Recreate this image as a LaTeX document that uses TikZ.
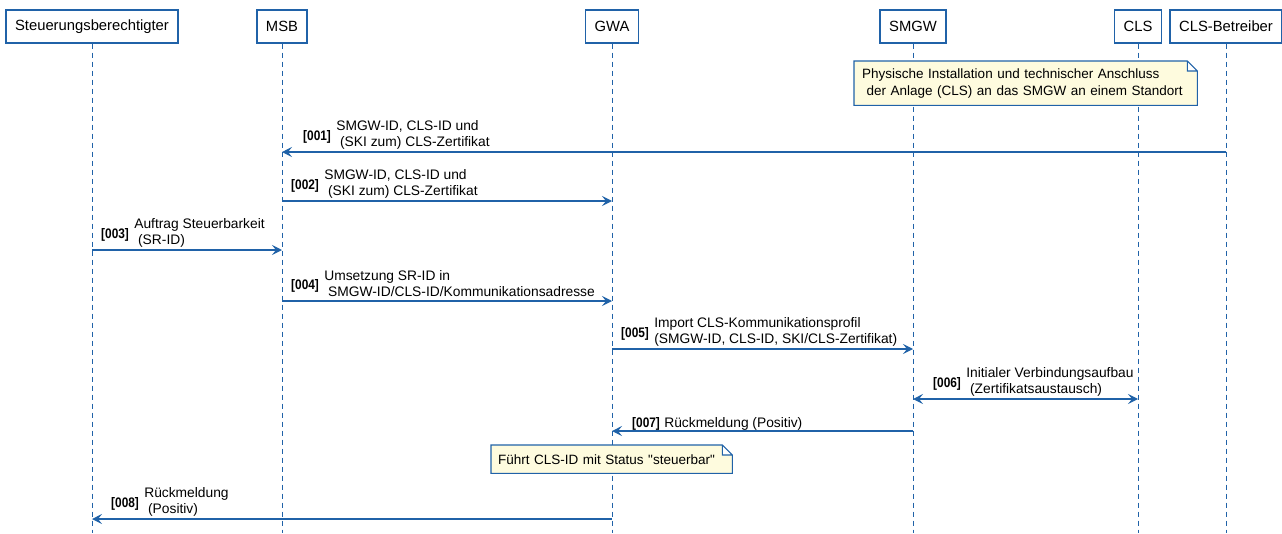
\documentclass[tikz,border=0pt]{standalone}
\usepackage{fontspec}
\setmainfont{Liberation Sans}
\usepackage{graphicx}
\usepackage{xcolor}
\usepackage{tikz}
\usetikzlibrary{arrows.meta, positioning, backgrounds}

\definecolor{umlblue}{RGB}{32,98,168}
\definecolor{notefill}{RGB}{254,251,222}

\newcommand{\nr}[1]{\scalebox{0.86}[1]{\textbf{[#1]}}}

\tikzset{
  actor/.style={draw=umlblue, line width=1.4pt, fill=white, minimum height=33pt, inner xsep=9pt, font=\fontsize{14.8}{16}\selectfont},
  life/.style={umlblue, line width=0.9pt, dash pattern=on 5pt off 4pt},
  msg/.style={umlblue, line width=1.2pt, -{Stealth[length=10pt,width=10pt,inset=4pt]}},
  msgboth/.style={umlblue, line width=1.2pt, {Stealth[length=10pt,width=10pt,inset=4pt]}-{Stealth[length=10pt,width=10pt,inset=4pt]}},
  num/.style={inner sep=0pt, font=\fontsize{13.8}{16}\selectfont},
  lbl/.style={inner sep=0pt, align=left, font=\fontsize{13.8}{16}\selectfont},
  notebox/.style={inner xsep=8pt, anchor=north west, align=left, font=\fontsize{13.5}{17}\selectfont},
  noteline/.style={draw=umlblue, fill=notefill, line width=1.1pt}
}

\begin{document}
\begin{tikzpicture}[x=1pt, y=-1pt]
    \useasboundingbox (0,0) rectangle (1282,533);

    % participants
    \node[actor] at (92,26.5)   (sb)   {Steuerungsberechtigter};
    \node[actor] at (282,26.5)  (msb)  {MSB};
    \node[actor] at (612,26.5)  (gwa)  {GWA};
    \node[actor] at (913,26.5)  (smgw) {SMGW};
    \node[actor] at (1138,26.5) (cls)  {CLS};
    \node[actor] at (1226,26.5) (clsb) {CLS-Betreiber};

    % notes
    \node[notebox, text width=327pt, minimum height=44pt] at (854,61) (note1)
        {Physische Installation und technischer Anschluss\\\ der Anlage (CLS) an das SMGW an einem Standort};
    \node[notebox, text width=227pt, inner xsep=7pt, minimum height=28pt] at (491,445) (note2)
        {Führt CLS-ID mit Status \textquotedbl steuerbar\textquotedbl};

    \begin{scope}[on background layer]
        \foreach \p in {sb,msb,gwa,smgw,cls,clsb}
            \draw[life] (\p.south) -- (\p.south |- 0,533);
        \foreach \n in {note1,note2}
            \draw[noteline] (\n.north west) -- ([xshift=-10pt]\n.north east) -- ([yshift=-10pt]\n.north east)
                -- (\n.south east) -- (\n.south west) -- cycle
                ([xshift=-10pt]\n.north east) |- ([yshift=-10pt]\n.north east);
    \end{scope}

    % messages
    \draw[msg] (clsb |- 0,152) -- (msb |- 0,152);
    \node[num, anchor=base west] at (303,140) (n001) {\nr{001}};
    \node[lbl, anchor=west] at ([xshift=5pt, yshift=1.5pt]n001.east) (t001) {SMGW-ID, CLS-ID und\\\ (SKI zum) CLS-Zertifikat};

    \draw[msg] (msb |- 0,201) -- (gwa |- 0,201);
    \node[num, anchor=base west] at (291,189) (n002) {\nr{002}};
    \node[lbl, anchor=west] at ([xshift=5pt, yshift=1.5pt]n002.east) (t002) {SMGW-ID, CLS-ID und\\\ (SKI zum) CLS-Zertifikat};

    \draw[msg] (sb |- 0,250) -- (msb |- 0,250);
    \node[num, anchor=base west] at (101,238) (n003) {\nr{003}};
    \node[lbl, anchor=west] at ([xshift=5pt, yshift=1.5pt]n003.east) (t003) {Auftrag Steuerbarkeit\\\ (SR-ID)};

    \draw[msg] (msb |- 0,301) -- (gwa |- 0,301);
    \node[num, anchor=base west] at (291,289) (n004) {\nr{004}};
    \node[lbl, anchor=west] at ([xshift=5pt, yshift=1.5pt]n004.east) (t004) {Umsetzung SR-ID in\\\ SMGW-ID/CLS-ID/Kommunikationsadresse};

    \draw[msg] (gwa |- 0,349) -- (smgw |- 0,349);
    \node[num, anchor=base west] at (621,337) (n005) {\nr{005}};
    \node[lbl, anchor=west] at ([xshift=5pt, yshift=1.5pt]n005.east) (t005) {Import CLS-Kommunikationsprofil\\(SMGW-ID, CLS-ID, SKI/CLS-Zertifikat)};

    \draw[msgboth] (smgw |- 0,399) -- (cls |- 0,399);
    \node[num, anchor=base west] at (933,387) (n006) {\nr{006}};
    \node[lbl, anchor=west] at ([xshift=5pt, yshift=1.5pt]n006.east) (t006) {Initialer Verbindungsaufbau\\\ (Zertifikatsaustausch)};

    \draw[msg] (smgw |- 0,431) -- (gwa |- 0,431);
    \node[num, anchor=base west] at (632,427) (n007) {\nr{007}};
    \node[lbl, right=4pt of n007] (t007) {Rückmeldung (Positiv)};

    \draw[msg] (gwa |- 0,519) -- (sb |- 0,519);
    \node[num, anchor=base west] at (111,507) (n008) {\nr{008}};
    \node[lbl, anchor=west] at ([xshift=5pt, yshift=1.5pt]n008.east) (t008) {Rückmeldung\\\ (Positiv)};
\end{tikzpicture}
\end{document}
